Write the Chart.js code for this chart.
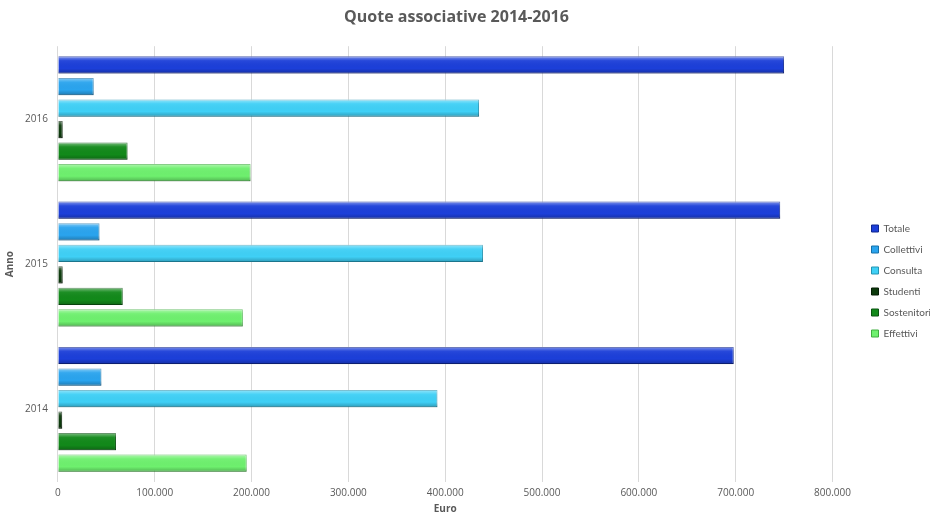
<!DOCTYPE html>
<html>
<head>
<meta charset="utf-8">
<script src="https://cdn.jsdelivr.net/npm/chart.js@4/dist/chart.umd.min.js"></script>
<style>
  html, body { margin: 0; padding: 0; background: #fff; }
  #wrap { width: 930px; height: 514px; }
</style>
</head>
<body>
<div id="wrap"><canvas id="chart"></canvas></div>
<script>
// --- Data ---
const years = ["2016", "2015", "2014"];
const totale = [750000, 746000, 698000];
const collettivi = [37000, 43000, 45000];
const consulta = [435000, 439000, 392000];
const studenti = [5000, 5000, 4500];
const sostenitori = [72000, 67000, 60000];
const effettivi = [199000, 191000, 195000];
const xTicks = [0, 100000, 200000, 300000, 400000, 500000, 600000, 700000, 800000];

const FONT = "'Open Sans', Lato, sans-serif";

// thousands separator with a dot, as in the original
const fmt = (v) => String(v).replace(/\B(?=(\d{3})+(?!\d))/g, ".");

const series = [
  { label: "Totale", data: totale, color: "#1c3fd9", border: "#0f268f" },
  { label: "Collettivi", data: collettivi, color: "#2aa4ee", border: "#1670a8" },
  { label: "Consulta", data: consulta, color: "#3fd0f6", border: "#2495b3" },
  { label: "Studenti", data: studenti, color: "#0c3a0c", border: "#041c04" },
  { label: "Sostenitori", data: sostenitori, color: "#12891a", border: "#0a5410" },
  { label: "Effettivi", data: effettivi, color: "#6ef06e", border: "#3fae3f" },
];

// nudge the legend away from the plot and down, like the original
const legendNudge = {
  id: "legendNudge",
  afterLayout(chart) {
    const lg = chart.legend;
    if (!lg) return;
    const dx = chart.chartArea.right + 28 - lg.left;
    const dy = 281 - (lg.top + lg.bottom) / 2;
    lg.left += dx;
    lg.right += dx;
    lg.top += dy;
    lg.bottom += dy;
  },
};

// soft bevel on each bar: light top edge, darker bottom edge
const barBevel = {
  id: "barBevel",
  afterDatasetsDraw(chart) {
    const ctx = chart.ctx;
    chart.data.datasets.forEach((ds, i) => {
      chart.getDatasetMeta(i).data.forEach((bar) => {
        const { x, y, base, height } = bar.getProps(["x", "y", "base", "height"], true);
        const top = y - height / 2;
        const g = ctx.createLinearGradient(0, top, 0, top + height);
        g.addColorStop(0, "rgba(255,255,255,0.45)");
        g.addColorStop(0.25, "rgba(255,255,255,0.05)");
        g.addColorStop(0.7, "rgba(0,0,0,0)");
        g.addColorStop(1, "rgba(0,0,0,0.25)");
        ctx.save();
        ctx.fillStyle = g;
        ctx.fillRect(base, top, x - base, height);
        ctx.restore();
      });
    });
  },
};

new Chart(document.getElementById("chart"), {
  type: "bar",
  data: {
    labels: years,
    datasets: series.map((s) => ({
      label: s.label,
      data: s.data,
      backgroundColor: s.color,
      borderColor: s.border,
      borderWidth: 1,
      categoryPercentage: 0.89,
      barPercentage: 0.8,
    })),
  },
  plugins: [legendNudge, barBevel],
  options: {
    indexAxis: "y",
    responsive: true,
    maintainAspectRatio: false,
    animation: false,
    layout: { padding: { left: 0, right: 17, top: 4, bottom: 0 } },
    plugins: {
      title: {
        display: true,
        text: "Quote associative 2014-2016",
        color: "#595959",
        font: { family: FONT, size: 16, weight: "bold" },
        padding: { top: 4, bottom: 19 },
      },
      legend: {
        position: "right",
        labels: {
          boxWidth: 7,
          boxHeight: 7,
          padding: 11,
          color: "#595959",
          font: { family: "Lato, 'Open Sans', sans-serif", size: 10 },
        },
      },
      tooltip: { enabled: false },
    },
    scales: {
      x: {
        min: 0,
        max: 800000,
        afterBuildTicks: (axis) => {
          axis.ticks = xTicks.map((v) => ({ value: v }));
        },
        grid: { color: "#d9d9d9", drawTicks: false },
        border: { display: false },
        ticks: {
          color: "#595959",
          padding: 6,
          font: { family: FONT, size: 10, lineHeight: 1 },
          callback: (v) => fmt(v),
        },
        title: {
          display: true,
          text: "Euro",
          color: "#595959",
          font: { family: FONT, size: 10, weight: "bold", lineHeight: 1 },
          padding: { top: 0, bottom: 0 },
        },
      },
      y: {
        grid: { display: false, drawTicks: false },
        border: { display: false },
        ticks: {
          color: "#595959",
          padding: 10,
          font: { family: FONT, size: 10 },
        },
        title: {
          display: true,
          text: "Anno",
          color: "#595959",
          font: { family: FONT, size: 10, weight: "bold", lineHeight: 1 },
          padding: { top: 5, bottom: 0 },
        },
      },
    },
  },
});
</script>
</body>
</html>
